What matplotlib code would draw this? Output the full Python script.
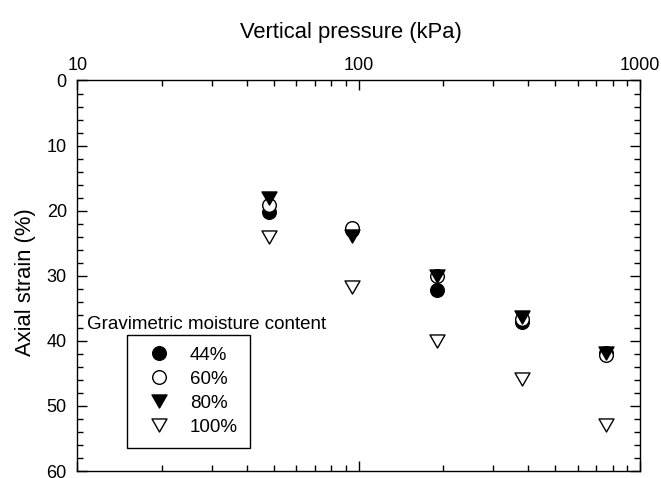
import matplotlib
matplotlib.use("Agg")
import matplotlib.pyplot as plt
from matplotlib.path import Path
from matplotlib.ticker import FixedLocator, FixedFormatter, MultipleLocator, LogLocator, NullFormatter

plt.rcParams['font.family'] = ['Liberation Sans', 'DejaVu Sans']

# Vertical pressure (kPa) for each loading step
pressure = [48, 95, 190, 380, 760]

# Axial strain (%) per gravimetric moisture content
strain_44 = [20.2, 23.0, 32.2, 37.1, 41.8]
strain_60 = [19.2, 22.7, 30.1, 36.6, 42.2]
strain_80 = [18.0, 23.9, 30.1, 36.3, 41.9]
strain_100 = [24.0, 31.7, 40.0, 45.9, 53.0]

series_labels = ['44%', '60%', '80%', '100%']
x_tick_values = [10, 100, 1000]
x_tick_labels = ['10', '100', '1000']

# slightly flattened downward triangle
tri_down = Path([(-1, 0.87), (1, 0.87), (0, -0.87), (-1, 0.87)],
                [Path.MOVETO, Path.LINETO, Path.LINETO, Path.CLOSEPOLY])

fig = plt.figure(figsize=(6.61, 4.78), dpi=100)
ax = fig.add_axes([0.1169, 0.0146, 0.8513, 0.8170])

circ_ms = 9.8
tri_ms = 10.8
ax.plot(pressure, strain_44, linestyle='none', marker='o', markersize=circ_ms,
        markerfacecolor='black', markeredgecolor='black', markeredgewidth=1.0,
        label=series_labels[0])
ax.plot(pressure, strain_60, linestyle='none', marker='o', markersize=circ_ms,
        markerfacecolor='white', markeredgecolor='black', markeredgewidth=1.0,
        label=series_labels[1])
ax.plot(pressure, strain_80, linestyle='none', marker=tri_down, markersize=tri_ms,
        markerfacecolor='black', markeredgecolor='black', markeredgewidth=1.0,
        label=series_labels[2])
ax.plot(pressure, strain_100, linestyle='none', marker=tri_down, markersize=tri_ms,
        markerfacecolor='white', markeredgecolor='black', markeredgewidth=1.0,
        label=series_labels[3])

ax.set_xscale('log')
ax.set_xlim(10, 1000)
ax.set_ylim(60, 0)

ax.xaxis.set_major_locator(FixedLocator(x_tick_values))
ax.xaxis.set_major_formatter(FixedFormatter(x_tick_labels))
ax.xaxis.set_minor_locator(LogLocator(base=10, subs=range(2, 10)))
ax.xaxis.set_minor_formatter(NullFormatter())
ax.yaxis.set_major_locator(MultipleLocator(10))
ax.yaxis.set_minor_locator(MultipleLocator(2))

ax.tick_params(which='both', direction='in', top=True, right=True, bottom=True, left=True,
               labeltop=True, labelbottom=False, labelsize=13, width=1.0)
ax.tick_params(axis='x', which='both', pad=5)
ax.tick_params(axis='y', which='both', pad=7.5)
ax.tick_params(which='major', length=7.5)
ax.tick_params(which='minor', length=4.5)
ax.xaxis.set_label_position('top')

for s in ax.spines.values():
    s.set_linewidth(1.0)

ax.set_xlabel('Vertical pressure (kPa)', fontsize=15.8, labelpad=13)
ax.xaxis.label.set_x(0.486)
ax.set_ylabel('Axial strain (%)', fontsize=15.8, labelpad=7.5)
ax.yaxis.label.set_y(0.484)

leg = ax.legend(loc='upper left', bbox_to_anchor=(0.0883, 0.348), borderaxespad=0,
                fancybox=False, edgecolor='black', framealpha=1, fontsize=13.5,
                handlelength=2.2, handletextpad=0.54, labelspacing=0.37,
                borderpad=0.62, numpoints=1)
leg.get_frame().set_linewidth(1.0)

ax.text(0.017, 0.374, 'Gravimetric moisture content', transform=ax.transAxes,
        fontsize=13.5, ha='left', va='center')

fig.savefig('out.png', dpi=100)
